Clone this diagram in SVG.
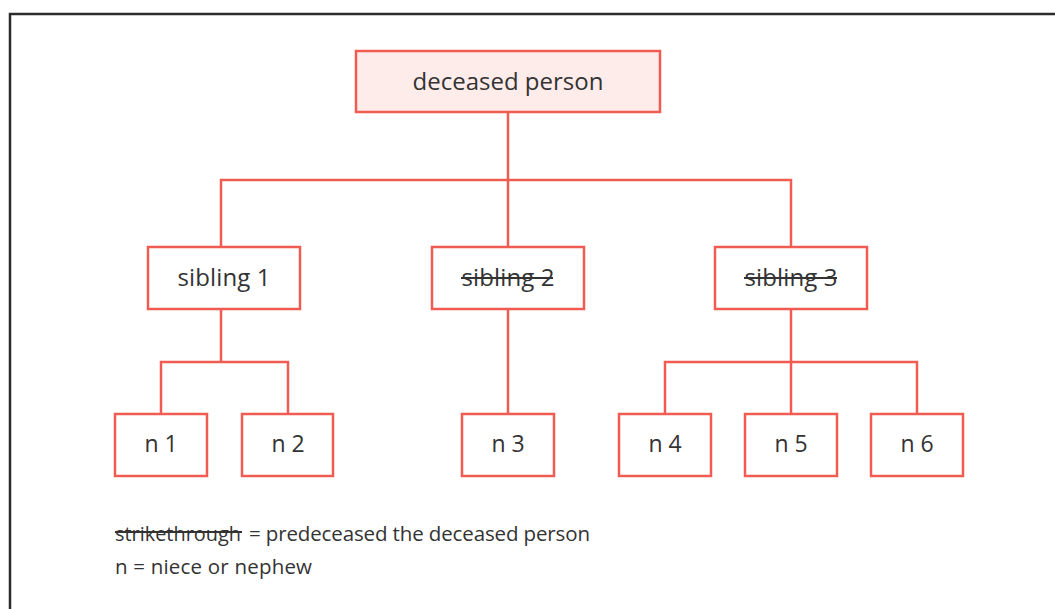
<svg xmlns="http://www.w3.org/2000/svg" width="1055" height="609" viewBox="0 0 1055 609">
<style>
.box{fill:#ffffff;stroke:#f05b52;stroke-width:2.5}
.root{fill:#fdecea}
.conn{fill:none;stroke:#f05b52;stroke-width:2.5}
.t{font-family:"Open Sans","Noto Sans",sans-serif;fill:#333333;text-anchor:middle}
.lg{font-family:"Open Sans","Noto Sans",sans-serif;fill:#333333;font-size:20.5px}
.strike{stroke:#333333;stroke-width:1.8}
</style>
<rect width="1055" height="609" fill="#ffffff"/>
<path d="M10,620 V14 H1065" fill="none" stroke="#2b2b2b" stroke-width="2.5"/>
<g id="connectors">
<path class="conn" d="M508,112 V180 M221,247 V180 H791 V247 M508,180 V247"/>
<path class="conn" d="M221,309 V362 M161,414 V362 H288 V414"/>
<path class="conn" d="M508,309 V414"/>
<path class="conn" d="M791,309 V414 M665,414 V362 H917 V414"/>
</g>
<g id="deceased">
<rect class="box root" x="356" y="51" width="304" height="61"/>
<text class="t" x="508" y="90" font-size="24">deceased person</text>
</g>
<g id="sibling1">
<rect class="box" x="148" y="247" width="152" height="62"/>
<text class="t" x="224" y="286" font-size="24" textLength="93" lengthAdjust="spacing">sibling 1</text>
</g>
<g id="sibling2">
<rect class="box" x="432" y="247" width="152" height="62"/>
<text class="t" x="508" y="286" font-size="24" textLength="93" lengthAdjust="spacing">sibling 2</text>
<line class="strike" x1="461" y1="278" x2="553" y2="278"/>
</g>
<g id="sibling3">
<rect class="box" x="715" y="247" width="152" height="62"/>
<text class="t" x="791" y="286" font-size="24" textLength="93" lengthAdjust="spacing">sibling 3</text>
<line class="strike" x1="744" y1="278" x2="837" y2="278"/>
</g>
<g id="n1">
<rect class="box" x="115" y="414" width="92" height="62"/>
<text class="t" x="161" y="452" font-size="23">n 1</text>
</g>
<g id="n2">
<rect class="box" x="242" y="414" width="91" height="62"/>
<text class="t" x="288" y="452" font-size="23">n 2</text>
</g>
<g id="n3">
<rect class="box" x="462" y="414" width="92" height="62"/>
<text class="t" x="508" y="452" font-size="23">n 3</text>
</g>
<g id="n4">
<rect class="box" x="619" y="414" width="92" height="62"/>
<text class="t" x="665" y="452" font-size="23">n 4</text>
</g>
<g id="n5">
<rect class="box" x="745" y="414" width="92" height="62"/>
<text class="t" x="791" y="452" font-size="23">n 5</text>
</g>
<g id="n6">
<rect class="box" x="871" y="414" width="92" height="62"/>
<text class="t" x="917" y="452" font-size="23">n 6</text>
</g>
<g id="legend">
<text class="lg" x="115" y="541" textLength="126" lengthAdjust="spacingAndGlyphs">strikethrough</text>
<line class="strike" x1="115" y1="532" x2="242" y2="532"/>
<text class="lg" x="249" y="541" textLength="341" lengthAdjust="spacing">= predeceased the deceased person</text>
<text class="lg" x="115" y="574" textLength="197" lengthAdjust="spacing">n = niece or nephew</text>
</g>
</svg>
